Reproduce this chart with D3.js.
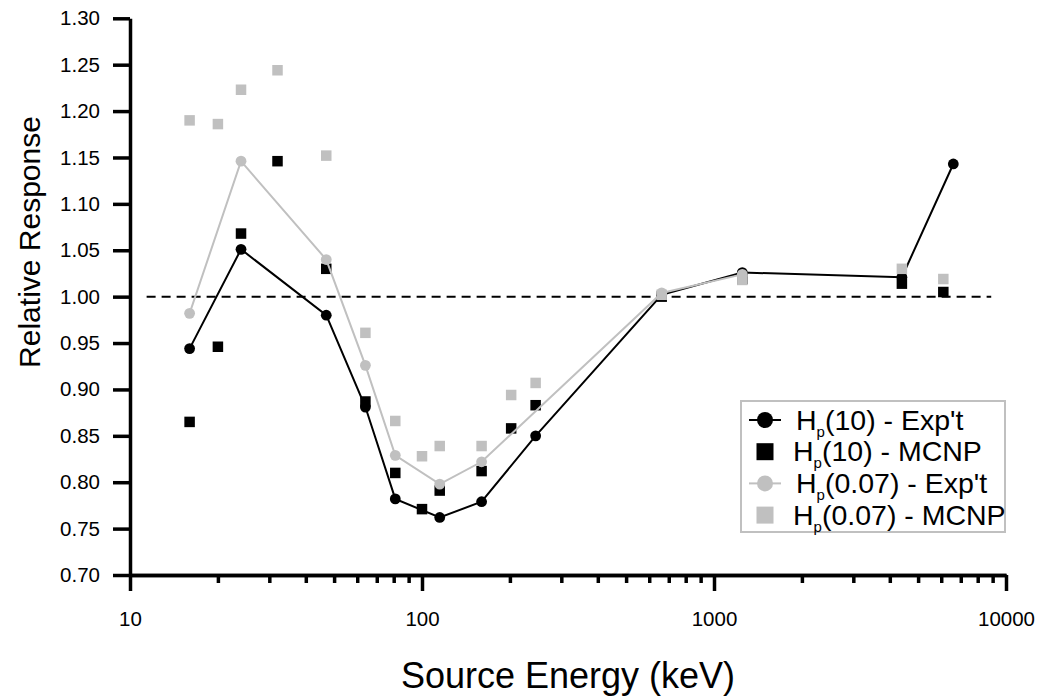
<!doctype html>
<html>
<head>
<meta charset="utf-8">
<script src="https://cdn.jsdelivr.net/npm/d3@7"></script>
<style>
  body { margin: 0; background: #fff; }
  svg text { font-family: Arial, "Liberation Sans", Helvetica, sans-serif; }
</style>
</head>
<body>
<svg width="1042" height="699"></svg>
<script>
// Hp(10) experiment - black circles, joined
var energyExpt10 = [16, 24, 47, 64, 81, 115, 160, 245, 662, 1250, 4400, 6600];
var respExpt10   = [0.944, 1.051, 0.980, 0.881, 0.782, 0.762, 0.779, 0.850, 1.002, 1.026, 1.021, 1.143];
// Hp(10) MCNP - black squares
var energyMcnp10 = [16, 20, 24, 32, 47, 64, 81, 100, 115, 160, 202, 245, 662, 1250, 4400, 6100];
var respMcnp10   = [0.865, 0.946, 1.068, 1.146, 1.030, 0.887, 0.810, 0.771, 0.791, 0.812, 0.858, 0.883, 1.000, 1.019, 1.014, 1.005];
// Hp(0.07) experiment - grey circles, joined
var energyExpt007 = [16, 24, 47, 64, 81, 115, 160, 662, 1250];
var respExpt007   = [0.982, 1.146, 1.040, 0.926, 0.829, 0.798, 0.822, 1.004, 1.024];
// Hp(0.07) MCNP - grey squares
var energyMcnp007 = [16, 20, 24, 32, 47, 64, 81, 100, 115, 160, 202, 245, 662, 1250, 4400, 6100];
var respMcnp007   = [1.190, 1.186, 1.223, 1.244, 1.152, 0.961, 0.866, 0.828, 0.839, 0.839, 0.894, 0.907, 1.002, 1.018, 1.030, 1.019];

var yTicks = [0.70, 0.75, 0.80, 0.85, 0.90, 0.95, 1.00, 1.05, 1.10, 1.15, 1.20, 1.25, 1.30];
var xMajorTicks = [10, 100, 1000, 10000];
var refLineEnergy = [11.4, 8900];   // dashed line at 1.00
var refLineValue = 1.00;

var legendLabels = [["(10) - Exp't", "black", "circle"],
                    ["(10) - MCNP", "black", "square"],
                    ["(0.07) - Exp't", "#c0c0c0", "circle"],
                    ["(0.07) - MCNP", "#c0c0c0", "square"]];

var svg = d3.select("svg");
var grey = "#c0c0c0";
var font = "Arial, 'Liberation Sans', Helvetica, sans-serif";

var x = d3.scaleLog().domain([10, 10000]).range([130, 1006]);
var y = d3.scaleLinear().domain([0.70, 1.30]).range([575, 18.3]);

function zip(xs, ys) { return xs.map(function(d, i) { return [d, ys[i]]; }); }

// reference line
svg.append("line")
   .attr("x1", x(refLineEnergy[0])).attr("x2", x(refLineEnergy[1]))
   .attr("y1", y(refLineValue)).attr("y2", y(refLineValue))
   .attr("stroke", "black").attr("stroke-width", 2)
   .attr("stroke-dasharray", "9,6");

// axes
var minorTicks = x.ticks().filter(function(d) { return xMajorTicks.indexOf(d) < 0; });

var gxMinor = svg.append("g").attr("transform", "translate(0,575)")
   .call(d3.axisBottom(x).tickValues(minorTicks).tickSize(8).tickSizeOuter(0).tickFormat(""));
var gx = svg.append("g").attr("transform", "translate(0,575)")
   .call(d3.axisBottom(x).tickValues(xMajorTicks).tickSize(16).tickSizeOuter(0)
         .tickPadding(20).tickFormat(d3.format("d")));
var gy = svg.append("g").attr("transform", "translate(130,0)")
   .call(d3.axisLeft(y).tickValues(yTicks).tickSize(17).tickSizeOuter(0)
         .tickPadding(13).tickFormat(d3.format(".2f")));

[gxMinor, gx, gy].forEach(function(g) {
  g.attr("font-family", font).attr("font-size", 20.5);
  g.selectAll("path, line").style("stroke", "#000").style("stroke-width", "3.5px");
  g.selectAll("text").attr("fill", "black");
});

// axis titles
svg.append("text")
   .attr("transform", "translate(40,242) rotate(-90)")
   .attr("text-anchor", "middle")
   .attr("font-family", font)
   .attr("font-size", 30)
   .text("Relative Response");

svg.append("text")
   .attr("x", 568).attr("y", 688)
   .attr("text-anchor", "middle")
   .attr("font-family", font)
   .attr("font-size", 36)
   .text("Source Energy (keV)");

var line = d3.line().x(function(d) { return x(d[0]); }).y(function(d) { return y(d[1]); });
var sq = 10.5;

function drawLine(data, color) {
  svg.append("path").datum(data)
     .attr("d", line).attr("fill", "none")
     .attr("stroke", color).attr("stroke-width", 2);
  svg.append("g").selectAll("circle").data(data).enter().append("circle")
     .attr("cx", function(d) { return x(d[0]); })
     .attr("cy", function(d) { return y(d[1]); })
     .attr("r", 5.4).attr("fill", color);
}
function drawSquares(data, color) {
  svg.append("g").selectAll("rect").data(data).enter().append("rect")
     .attr("x", function(d) { return x(d[0]) - sq / 2; })
     .attr("y", function(d) { return y(d[1]) - sq / 2; })
     .attr("width", sq).attr("height", sq).attr("fill", color);
}

drawLine(zip(energyExpt10, respExpt10), "black");
drawSquares(zip(energyMcnp10, respMcnp10), "black");
drawLine(zip(energyExpt007, respExpt007), grey);
drawSquares(zip(energyMcnp007, respMcnp007), grey);

// legend
var lg = svg.append("g");
lg.append("rect").attr("x", 741).attr("y", 401).attr("width", 264).attr("height", 131)
  .attr("fill", "white").attr("stroke", grey).attr("stroke-width", 2);

legendLabels.forEach(function(e, i) {
  var cy = 420 + i * 31.7;
  if (e[2] == "circle") {
    lg.append("line").attr("x1", 749).attr("x2", 781).attr("y1", cy).attr("y2", cy)
      .attr("stroke", e[1]).attr("stroke-width", 2);
    lg.append("circle").attr("cx", 765).attr("cy", cy).attr("r", 8).attr("fill", e[1]);
  } else {
    lg.append("rect").attr("x", 756.5).attr("y", cy - 8.5).attr("width", 17).attr("height", 17)
      .attr("fill", e[1]);
  }
  var t = lg.append("text")
    .attr("x", e[2] == "circle" ? 796 : 793)
    .attr("y", cy + 9.5)
    .attr("font-family", font)
    .attr("font-size", 28.5);
  t.append("tspan").text("H");
  t.append("tspan").attr("font-size", 15).attr("dy", 7).text("p");
  t.append("tspan").attr("dy", -7).text(e[0]);
});
</script>
</body>
</html>
